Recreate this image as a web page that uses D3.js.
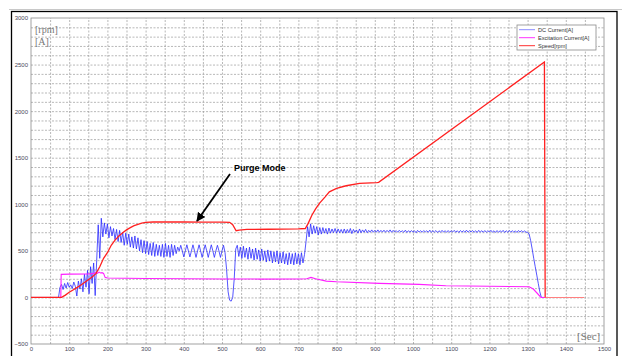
<!DOCTYPE html>
<html lang="en">
<head>
<meta charset="utf-8">
<title>Purge Mode</title>
<script src="https://d3js.org/d3.v7.min.js"></script>
<style>
  body { margin: 0; background: #fff; }
  svg { display: block; }
  .tick text { font-family: "Liberation Sans", Arial, sans-serif; font-size: 6px; fill: #4a4a5a; }
  .grid line { stroke: #9a9a9a; stroke-width: 0.7; stroke-dasharray: 2,1.5; }
  .grid .domain { display: none; }
</style>
</head>
<body>
<script>
// ---- data ----
const xTicks = [0,100,200,300,400,500,600,700,800,900,1000,1100,1200,1300,1400,1500];
const yTicks = [-500,0,500,1000,1500,2000,2500,3000];
const seriesNames = ["DC Current[A]", "Excitation Current[A]", "Speed[rpm]"];

// speed [sec, rpm]
const speed = [[0,0],[80,0],[90,25],[100,55],[110,80],[120,105],[130,130],[140,160],[150,190],
  [160,220],[170,255],[180,330],[190,420],[200,480],[210,560],[220,615],[230,660],[240,695],
  [250,725],[260,750],[270,770],[280,785],[290,797],[300,805],[320,810],[350,812],[400,810],
  [450,808],[500,808],[520,806],[528,780],[537,716],[545,722],[565,730],[620,732],[700,735],
  [718,740],[725,790],[735,880],[745,950],[755,1010],[770,1080],[781,1134],[800,1170],
  [825,1199],[860,1224],[905,1232],[910,1235],[1344,2528],[1346,0]];
const speedTail = [[1346,0],[1448,0]];

// excitation current [sec, A]
const excitation = [[0,0],[78,0],[79,248],[100,250],[150,252],[165,258],[170,268],[174,258],
  [178,272],[182,262],[186,266],[190,258],[194,215],[200,208],[300,203],[400,200],[500,198],
  [600,197],[700,198],[722,200],[733,215],[745,200],[773,175],[800,168],[912,151],[1016,140],
  [1086,126],[1200,120],[1304,115],[1315,90],[1334,5],[1336,0],[1345,0]];

// DC current, one sample every dcStep seconds from t = 0
const dcStep = 4;
const dcCurrent = [
  0,0,0,0,0,0,0,0,0,0,0,0,0,0,0,0,0,0,0,
  110,
  140,85,150,100,160,110,135,95,165,120,15,175,90,
  200,60,250,110,290,40,330,150,370,20,400,
  780,420,850,650,800,680,790,640,760,660,740,
  620,730,600,720,590,700,560,690,570,680,540,650,530,660,520,640,500,620,480,610,470,600,
  460,580,450,590,440,570,450,560,440,570,430,580,440,560,430,570,450,560,470,540,
  500,560,500,435,500,565,500,435,500,565,500,430,500,565,500,430,500,565,500,430,500,565,
  500,430,500,560,500,430,500,560,480,
  300,60,-30,-40,0,200,520,
  560,440,540,420,550,430,530,410,540,420,520,400,530,410,510,390,520,400,500,380,510,390,
  500,370,490,380,500,360,480,370,490,360,470,350,480,360,470,350,480,360,470,350,480,370,460,
  600,760,650,790,680,770,690,760,670,750,680,750,690,740,680,745,690,735,695,740,690,735,
  695,730,690,
  735,690,730,695,740,685,730,700,725,690,735,695,725,700,
  730,695,720,700,725,700,720,700,725,700,720,702,722,700,720,703,725,700,720,702,718,700,
  720,703,716,700,722,698,716,702,718,700,716,695,720,702,716,700,718,703,716,700,722,700,
  716,702,718,698,716,700,720,702,716,700,718,700,716,703,720,700,716,698,718,702,716,700,
  722,700,716,702,718,700,716,698,720,702,716,700,718,700,716,702,720,700,716,698,718,
  700,716,702,720,698,716,700,718,702,716,700,715,698,718,702,716,700,714,700,
  700,680,610,520,420,330,240,150,60,0,0,0
];

// ---- layout ----
const W = 622, H = 356;
const plot = {left: 31, right: 604, top: 18, bottom: 344};

const x = d3.scaleLinear().domain([0, 1500]).range([plot.left, plot.right]);
const y = d3.scaleLinear().domain([-500, 3000]).range([plot.bottom, plot.top]);

const svg = d3.select("body").append("svg")
  .attr("width", W)
  .attr("height", H);

svg.append("rect").attr("width", W).attr("height", H).attr("fill", "#fff");

// outer frame
svg.append("line").attr("x1", 9).attr("x2", W).attr("y1", 9.5).attr("y2", 9.5)
  .attr("stroke", "#c8c8c8").attr("stroke-width", 1);
svg.append("rect")
  .attr("x", 11.5).attr("y", 11.5).attr("width", 605.5).attr("height", 360)
  .attr("fill", "none").attr("stroke", "#000").attr("stroke-width", 1.3);

// grid
svg.append("g").attr("class", "grid")
  .attr("transform", "translate(0," + plot.bottom + ")")
  .call(d3.axisBottom(x).tickValues(d3.range(50, 1500, 50)).tickSize(-(plot.bottom - plot.top)).tickFormat(""));
svg.append("g").attr("class", "grid")
  .attr("transform", "translate(" + plot.left + ",0)")
  .call(d3.axisLeft(y).tickValues(d3.range(-400, 3000, 100)).tickSize(-(plot.right - plot.left)).tickFormat(""));

svg.append("rect")
  .attr("x", plot.left).attr("y", plot.top)
  .attr("width", plot.right - plot.left).attr("height", plot.bottom - plot.top)
  .attr("fill", "none").attr("stroke", "#8a8a8a").attr("stroke-width", 0.8);

// axes labels
const xAxis = svg.append("g")
  .attr("transform", "translate(0," + (plot.bottom + 2) + ")")
  .call(d3.axisBottom(x).tickValues(xTicks).tickSize(0).tickPadding(1).tickFormat(d3.format("d")));
xAxis.select(".domain").remove();

const yAxis = svg.append("g")
  .attr("transform", "translate(" + (plot.left - 2) + ",0)")
  .call(d3.axisLeft(y).tickValues(yTicks).tickSize(0).tickPadding(1).tickFormat(d3.format("d")));
yAxis.select(".domain").remove();

// unit labels
svg.append("text").attr("x", 35).attr("y", 33).text("[rpm]")
  .attr("font-family", "Liberation Serif, serif").attr("font-size", 10).attr("fill", "#777");
svg.append("text").attr("x", 35).attr("y", 45).text("[A]")
  .attr("font-family", "Liberation Serif, serif").attr("font-size", 10).attr("fill", "#777");
svg.append("text").attr("x", 577).attr("y", 340).text("[Sec]")
  .attr("font-family", "Liberation Serif, serif").attr("font-size", 11).attr("fill", "#777");

// lines
const line = d3.line().x(d => x(d[0])).y(d => y(d[1]));
const dcPoints = dcCurrent.map((v, i) => [i * dcStep, v]);

svg.append("path").datum(dcPoints).attr("d", line)
  .attr("fill", "none").attr("stroke", "#2a2aff").attr("stroke-width", 0.8)
  .attr("stroke-linejoin", "round");

svg.append("path").datum(excitation).attr("d", line)
  .attr("fill", "none").attr("stroke", "#ff1eff").attr("stroke-width", 1.1);

svg.append("path").datum(speedTail).attr("d", line)
  .attr("fill", "none").attr("stroke", "#ff8080").attr("stroke-width", 1.1);
svg.append("path").datum(speed).attr("d", line)
  .attr("fill", "none").attr("stroke", "#ff2020").attr("stroke-width", 1.3);

// annotation
svg.append("defs").append("marker")
  .attr("id", "arrow").attr("viewBox", "0 0 10 10").attr("refX", 9).attr("refY", 5)
  .attr("markerWidth", 5).attr("markerHeight", 5).attr("orient", "auto")
  .append("path").attr("d", "M0,0 L10,5 L0,10 z").attr("fill", "#000");
svg.append("line")
  .attr("x1", 230).attr("y1", 174).attr("x2", 197).attr("y2", 221)
  .attr("stroke", "#000").attr("stroke-width", 1.8).attr("marker-end", "url(#arrow)");
svg.append("text").attr("x", 234).attr("y", 171).text("Purge Mode")
  .attr("font-family", "Liberation Sans, Arial, sans-serif").attr("font-weight", "bold")
  .attr("font-size", 9).attr("fill", "#000");

// legend
const legendColors = ["#8c8cff", "#ff33ff", "#ff3030"];
const legend = svg.append("g").attr("transform", "translate(517,25)");
legend.append("rect").attr("width", 79).attr("height", 25)
  .attr("fill", "#fff").attr("stroke", "#8a8a8a").attr("stroke-width", 0.8);
seriesNames.forEach((name, i) => {
  legend.append("line").attr("x1", 2).attr("x2", 18)
    .attr("y1", 4.7 + i * 8).attr("y2", 4.7 + i * 8)
    .attr("stroke", legendColors[i]).attr("stroke-width", 1);
  legend.append("text").attr("x", 21).attr("y", 6.8 + i * 8).text(name)
    .attr("font-family", "Liberation Sans, Arial, sans-serif").attr("font-size", 5.6).attr("fill", "#333");
});
</script>
</body>
</html>
